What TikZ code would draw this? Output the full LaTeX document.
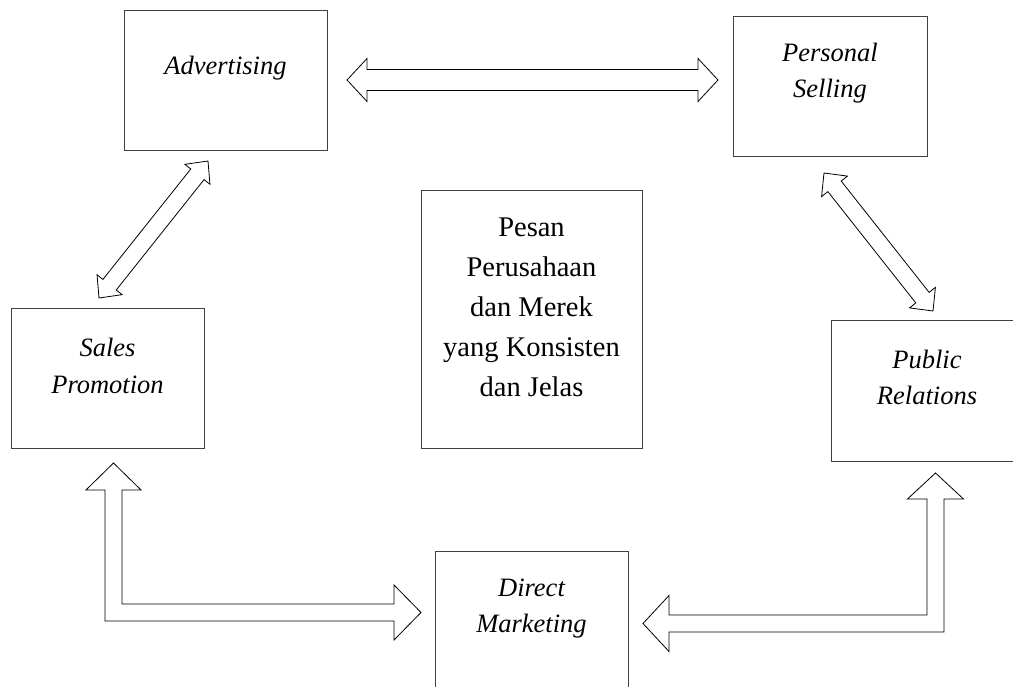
\documentclass[tikz,border=0pt]{standalone}
\usepackage{fontspec}
\setmainfont{Liberation Serif}
\usetikzlibrary{calc}

\newcommand{\dblarrow}[5]{%
  \draw[blockarrow] (#1)
    -- ($(#1)!#3!(#2)!#4!90:(#2)$) -- ($(#1)!#3!(#2)!#5!90:(#2)$)
    -- ($(#2)!#3!(#1)!#5!-90:(#1)$) -- ($(#2)!#3!(#1)!#4!-90:(#1)$)
    -- (#2)
    -- ($(#2)!#3!(#1)!#4!90:(#1)$) -- ($(#2)!#3!(#1)!#5!90:(#1)$)
    -- ($(#1)!#3!(#2)!#5!-90:(#2)$) -- ($(#1)!#3!(#2)!#4!-90:(#2)$)
    -- cycle;}

\newcommand{\elbowarrow}[6]{%
  \draw[blockarrow] (#1)
    -- ($(#1)!#4!(#2)!#5!90:(#2)$) -- ($(#1)!#4!(#2)!#6!90:(#2)$)
    -- ($(#2)!#6!-90:(#1)!#6!90:(#3)$)
    -- ($(#3)!#4!(#2)!#6!-90:(#2)$) -- ($(#3)!#4!(#2)!#5!-90:(#2)$)
    -- (#3)
    -- ($(#3)!#4!(#2)!#5!90:(#2)$) -- ($(#3)!#4!(#2)!#6!90:(#2)$)
    -- ($(#2)!#6!90:(#1)!#6!-90:(#3)$)
    -- ($(#1)!#4!(#2)!#6!-90:(#2)$) -- ($(#1)!#4!(#2)!#5!-90:(#2)$)
    -- cycle;}

\begin{document}
\begin{tikzpicture}[x=1pt,y=-1pt,
        box/.style={draw=black!75,line width=1pt,rectangle,minimum width=194pt,minimum height=140pt,inner sep=0pt},
        lbl/.style={align=center,font=\fontsize{26.5}{36.5}\selectfont\itshape},
        msg/.style={align=center,font=\fontsize{28.5}{40}\selectfont},
        blockarrow/.style={draw=black,line width=0.8pt,fill=white,line join=miter}]

  \useasboundingbox (0,0) rectangle (1013,687);

  \node[box,minimum width=203pt] (adv) at (225.5,81) {};
  \node[box] (pers) at (830,87) {};
  \node[box,minimum width=193pt,minimum height=139pt] (sales) at (107.5,378.5) {};
  \node[box,minimum width=221pt,minimum height=257pt] (center) at (531.5,319.5) {};
  \node[box,minimum width=192pt] (pub) at (927,391) {};
  \node[box,minimum width=193pt] (direct) at (531.5,621) {};

  \node[lbl] (adv-t) at ([yshift=13pt]adv.center) {Advertising};
  \node[lbl] (pers-t) at ([yshift=14pt]pers.center) {Personal\\Selling};
  \node[lbl] (sales-t) at ([yshift=12.5pt]sales.center) {Sales\\Promotion};
  \node[msg] (center-t) at ([yshift=12pt]center.center) {Pesan\\Perusahaan\\dan Merek\\yang Konsisten\\dan Jelas};
  \node[lbl] (pub-t) at ([yshift=13.5pt]pub.center) {Public\\Relations};
  \node[lbl] (direct-t) at ([yshift=12.5pt]direct.center) {Direct\\Marketing};

  \coordinate (advR) at (347,80);
  \coordinate (persL) at (718,80);
  \coordinate (advB) at (208,161);
  \coordinate (salesT) at (99,298);
  \coordinate (persB) at (824,173);
  \coordinate (pubT) at (933,311);
  \coordinate (salesB) at (113.5,463);
  \coordinate (salesC) at (113.5,612.5);
  \coordinate (directL) at (421,612.5);
  \coordinate (pubB) at (935.5,473);
  \coordinate (pubC) at (935.5,623.5);
  \coordinate (directR) at (643,623.5);

  \dblarrow{advR}{persL}{20pt}{21.5pt}{10.5pt}
  \dblarrow{advB}{salesT}{17pt}{16pt}{8.5pt}
  \dblarrow{persB}{pubT}{17pt}{16.5pt}{8.5pt}
  \elbowarrow{salesB}{salesC}{directL}{27pt}{27.5pt}{8.5pt}
  \elbowarrow{pubB}{pubC}{directR}{26pt}{28pt}{8.5pt}

\end{tikzpicture}
\end{document}
